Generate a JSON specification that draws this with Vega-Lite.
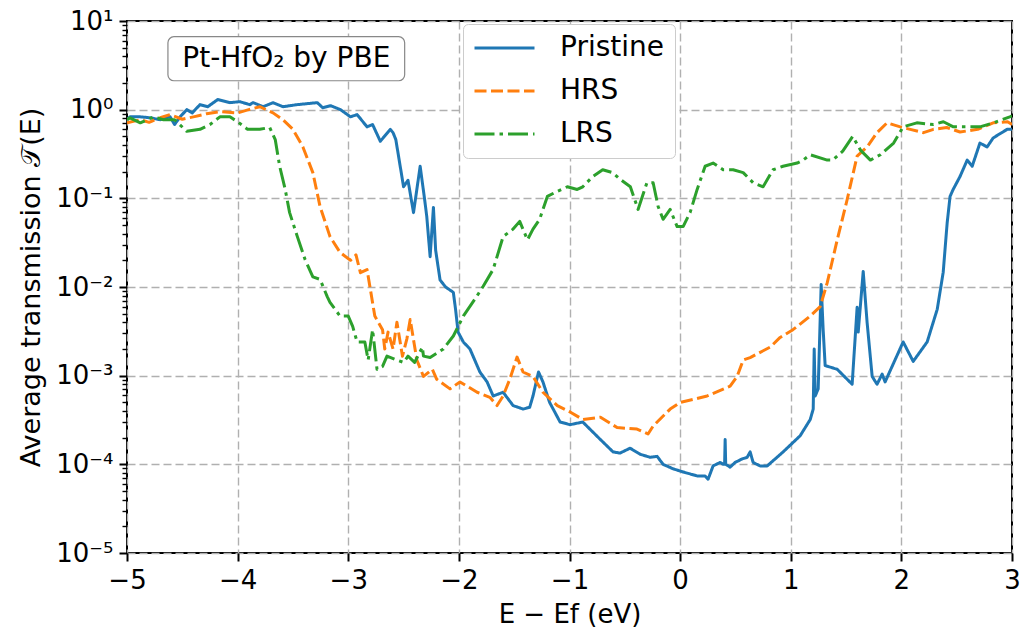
{
"$schema":"https://vega.github.io/schema/vega-lite/v6.json",
"autosize":{"type":"none"},
"padding":{"left":127,"top":21,"right":15,"bottom":77},
"width":885,"height":532,
"background":"white",
"config":{"font":"DejaVu Sans","view":{"stroke":"black","strokeWidth":2},
"axis":{"labelFont":"DejaVu Sans","titleFont":"DejaVu Sans","labelFontSize":26,"titleFontSize":26,"titleFontWeight":"normal","labelColor":"black","titleColor":"black","tickColor":"black","domain":false,"gridColor":"#b0b0b0","gridDash":[8,4],"gridWidth":1.4}},
"datasets":{
"main":[
{"E":-5.0,"T":0.77,"s":"Pristine"},{"E":-4.973,"T":0.83,"s":"Pristine"},{"E":-4.88,"T":0.83,"s":"Pristine"},{"E":-4.79,"T":0.81,"s":"Pristine"},{"E":-4.7,"T":0.77,"s":"Pristine"},{"E":-4.61,"T":0.83,"s":"Pristine"},{"E":-4.57,"T":0.68,"s":"Pristine"},{"E":-4.52,"T":0.83,"s":"Pristine"},{"E":-4.46,"T":1.0,"s":"Pristine"},{"E":-4.41,"T":0.92,"s":"Pristine"},{"E":-4.34,"T":1.14,"s":"Pristine"},{"E":-4.27,"T":1.08,"s":"Pristine"},{"E":-4.18,"T":1.3,"s":"Pristine"},{"E":-4.07,"T":1.2,"s":"Pristine"},{"E":-3.98,"T":1.23,"s":"Pristine"},{"E":-3.89,"T":1.14,"s":"Pristine"},{"E":-3.86,"T":1.2,"s":"Pristine"},{"E":-3.77,"T":1.08,"s":"Pristine"},{"E":-3.68,"T":1.2,"s":"Pristine"},{"E":-3.59,"T":1.08,"s":"Pristine"},{"E":-3.46,"T":1.14,"s":"Pristine"},{"E":-3.28,"T":1.2,"s":"Pristine"},{"E":-3.23,"T":1.05,"s":"Pristine"},{"E":-3.16,"T":1.11,"s":"Pristine"},{"E":-3.07,"T":1.0,"s":"Pristine"},{"E":-2.98,"T":0.83,"s":"Pristine"},{"E":-2.92,"T":0.88,"s":"Pristine"},{"E":-2.83,"T":0.64,"s":"Pristine"},{"E":-2.78,"T":0.68,"s":"Pristine"},{"E":-2.71,"T":0.44,"s":"Pristine"},{"E":-2.62,"T":0.6,"s":"Pristine"},{"E":-2.595,"T":0.55,"s":"Pristine"},{"E":-2.57,"T":0.46,"s":"Pristine"},{"E":-2.5,"T":0.135,"s":"Pristine"},{"E":-2.46,"T":0.16,"s":"Pristine"},{"E":-2.41,"T":0.069,"s":"Pristine"},{"E":-2.38,"T":0.126,"s":"Pristine"},{"E":-2.35,"T":0.23,"s":"Pristine"},{"E":-2.31,"T":0.098,"s":"Pristine"},{"E":-2.29,"T":0.062,"s":"Pristine"},{"E":-2.26,"T":0.022,"s":"Pristine"},{"E":-2.23,"T":0.079,"s":"Pristine"},{"E":-2.21,"T":0.026,"s":"Pristine"},{"E":-2.17,"T":0.012,"s":"Pristine"},{"E":-2.12,"T":0.01,"s":"Pristine"},{"E":-2.05,"T":0.0087,"s":"Pristine"},{"E":-2.03,"T":0.0056,"s":"Pristine"},{"E":-2.007,"T":0.0031,"s":"Pristine"},{"E":-1.96,"T":0.0024,"s":"Pristine"},{"E":-1.9,"T":0.002,"s":"Pristine"},{"E":-1.81,"T":0.0011,"s":"Pristine"},{"E":-1.745,"T":0.00085,"s":"Pristine"},{"E":-1.69,"T":0.00059,"s":"Pristine"},{"E":-1.6,"T":0.00065,"s":"Pristine"},{"E":-1.51,"T":0.00046,"s":"Pristine"},{"E":-1.42,"T":0.00042,"s":"Pristine"},{"E":-1.36,"T":0.00044,"s":"Pristine"},{"E":-1.33,"T":0.00059,"s":"Pristine"},{"E":-1.28,"T":0.0011,"s":"Pristine"},{"E":-1.24,"T":0.00085,"s":"Pristine"},{"E":-1.18,"T":0.0005,"s":"Pristine"},{"E":-1.085,"T":0.0003,"s":"Pristine"},{"E":-0.995,"T":0.00028,"s":"Pristine"},{"E":-0.88,"T":0.0003,"s":"Pristine"},{"E":-0.72,"T":0.00019,"s":"Pristine"},{"E":-0.606,"T":0.000138,"s":"Pristine"},{"E":-0.543,"T":0.000134,"s":"Pristine"},{"E":-0.452,"T":0.000152,"s":"Pristine"},{"E":-0.362,"T":0.00013,"s":"Pristine"},{"E":-0.271,"T":0.00012,"s":"Pristine"},{"E":-0.208,"T":0.000123,"s":"Pristine"},{"E":-0.154,"T":0.0001,"s":"Pristine"},{"E":-0.063,"T":0.000089,"s":"Pristine"},{"E":0.027,"T":0.000082,"s":"Pristine"},{"E":0.154,"T":0.000074,"s":"Pristine"},{"E":0.226,"T":0.000074,"s":"Pristine"},{"E":0.253,"T":0.000068,"s":"Pristine"},{"E":0.298,"T":0.000096,"s":"Pristine"},{"E":0.362,"T":0.000105,"s":"Pristine"},{"E":0.389,"T":0.0001,"s":"Pristine"},{"E":0.402,"T":0.0001,"s":"Pristine"},{"E":0.407,"T":0.00019,"s":"Pristine"},{"E":0.412,"T":0.0001,"s":"Pristine"},{"E":0.452,"T":0.000093,"s":"Pristine"},{"E":0.497,"T":0.000105,"s":"Pristine"},{"E":0.56,"T":0.000115,"s":"Pristine"},{"E":0.606,"T":0.00012,"s":"Pristine"},{"E":0.633,"T":0.000138,"s":"Pristine"},{"E":0.66,"T":0.000105,"s":"Pristine"},{"E":0.723,"T":0.000096,"s":"Pristine"},{"E":0.787,"T":0.000096,"s":"Pristine"},{"E":0.931,"T":0.000138,"s":"Pristine"},{"E":1.085,"T":0.00021,"s":"Pristine"},{"E":1.176,"T":0.00032,"s":"Pristine"},{"E":1.203,"T":0.00042,"s":"Pristine"},{"E":1.212,"T":0.002,"s":"Pristine"},{"E":1.221,"T":0.00059,"s":"Pristine"},{"E":1.248,"T":0.00071,"s":"Pristine"},{"E":1.275,"T":0.0107,"s":"Pristine"},{"E":1.293,"T":0.0033,"s":"Pristine"},{"E":1.311,"T":0.0013,"s":"Pristine"},{"E":1.42,"T":0.00118,"s":"Pristine"},{"E":1.555,"T":0.0008,"s":"Pristine"},{"E":1.6,"T":0.0059,"s":"Pristine"},{"E":1.61,"T":0.0031,"s":"Pristine"},{"E":1.655,"T":0.015,"s":"Pristine"},{"E":1.69,"T":0.004,"s":"Pristine"},{"E":1.736,"T":0.00098,"s":"Pristine"},{"E":1.78,"T":0.0008,"s":"Pristine"},{"E":1.826,"T":0.00104,"s":"Pristine"},{"E":1.853,"T":0.00085,"s":"Pristine"},{"E":2.016,"T":0.0024,"s":"Pristine"},{"E":2.107,"T":0.00145,"s":"Pristine"},{"E":2.233,"T":0.0024,"s":"Pristine"},{"E":2.324,"T":0.0056,"s":"Pristine"},{"E":2.378,"T":0.0146,"s":"Pristine"},{"E":2.414,"T":0.053,"s":"Pristine"},{"E":2.44,"T":0.105,"s":"Pristine"},{"E":2.468,"T":0.126,"s":"Pristine"},{"E":2.53,"T":0.176,"s":"Pristine"},{"E":2.595,"T":0.27,"s":"Pristine"},{"E":2.64,"T":0.23,"s":"Pristine"},{"E":2.71,"T":0.42,"s":"Pristine"},{"E":2.775,"T":0.38,"s":"Pristine"},{"E":2.83,"T":0.48,"s":"Pristine"},{"E":2.956,"T":0.6,"s":"Pristine"},{"E":3.0,"T":0.6,"s":"Pristine"},
{"E":-5.0,"T":0.71,"s":"HRS"},{"E":-4.88,"T":0.77,"s":"HRS"},{"E":-4.8,"T":0.72,"s":"HRS"},{"E":-4.7,"T":0.81,"s":"HRS"},{"E":-4.61,"T":0.88,"s":"HRS"},{"E":-4.5,"T":0.78,"s":"HRS"},{"E":-4.4,"T":0.83,"s":"HRS"},{"E":-4.28,"T":0.9,"s":"HRS"},{"E":-4.16,"T":0.95,"s":"HRS"},{"E":-4.0,"T":0.92,"s":"HRS"},{"E":-3.9,"T":1.0,"s":"HRS"},{"E":-3.8,"T":1.08,"s":"HRS"},{"E":-3.68,"T":0.92,"s":"HRS"},{"E":-3.59,"T":0.77,"s":"HRS"},{"E":-3.5,"T":0.6,"s":"HRS"},{"E":-3.41,"T":0.38,"s":"HRS"},{"E":-3.32,"T":0.195,"s":"HRS"},{"E":-3.255,"T":0.081,"s":"HRS"},{"E":-3.165,"T":0.037,"s":"HRS"},{"E":-3.074,"T":0.0245,"s":"HRS"},{"E":-2.98,"T":0.02,"s":"HRS"},{"E":-2.93,"T":0.023,"s":"HRS"},{"E":-2.89,"T":0.0145,"s":"HRS"},{"E":-2.83,"T":0.0157,"s":"HRS"},{"E":-2.8,"T":0.0094,"s":"HRS"},{"E":-2.76,"T":0.0047,"s":"HRS"},{"E":-2.69,"T":0.0033,"s":"HRS"},{"E":-2.67,"T":0.002,"s":"HRS"},{"E":-2.64,"T":0.0031,"s":"HRS"},{"E":-2.595,"T":0.002,"s":"HRS"},{"E":-2.56,"T":0.004,"s":"HRS"},{"E":-2.51,"T":0.00166,"s":"HRS"},{"E":-2.47,"T":0.0026,"s":"HRS"},{"E":-2.44,"T":0.0043,"s":"HRS"},{"E":-2.38,"T":0.0015,"s":"HRS"},{"E":-2.32,"T":0.00098,"s":"HRS"},{"E":-2.24,"T":0.00118,"s":"HRS"},{"E":-2.2,"T":0.00091,"s":"HRS"},{"E":-2.08,"T":0.00071,"s":"HRS"},{"E":-1.99,"T":0.00085,"s":"HRS"},{"E":-1.835,"T":0.00065,"s":"HRS"},{"E":-1.72,"T":0.00057,"s":"HRS"},{"E":-1.655,"T":0.00046,"s":"HRS"},{"E":-1.6,"T":0.00059,"s":"HRS"},{"E":-1.54,"T":0.00091,"s":"HRS"},{"E":-1.474,"T":0.00162,"s":"HRS"},{"E":-1.42,"T":0.0011,"s":"HRS"},{"E":-1.33,"T":0.00098,"s":"HRS"},{"E":-1.24,"T":0.00065,"s":"HRS"},{"E":-1.11,"T":0.00046,"s":"HRS"},{"E":-0.995,"T":0.00039,"s":"HRS"},{"E":-0.88,"T":0.00032,"s":"HRS"},{"E":-0.72,"T":0.00034,"s":"HRS"},{"E":-0.57,"T":0.00026,"s":"HRS"},{"E":-0.39,"T":0.00025,"s":"HRS"},{"E":-0.29,"T":0.00022,"s":"HRS"},{"E":-0.244,"T":0.00027,"s":"HRS"},{"E":-0.09,"T":0.00042,"s":"HRS"},{"E":0.0,"T":0.0005,"s":"HRS"},{"E":0.118,"T":0.00054,"s":"HRS"},{"E":0.244,"T":0.00059,"s":"HRS"},{"E":0.452,"T":0.00076,"s":"HRS"},{"E":0.515,"T":0.00098,"s":"HRS"},{"E":0.57,"T":0.0015,"s":"HRS"},{"E":0.633,"T":0.0016,"s":"HRS"},{"E":0.814,"T":0.0021,"s":"HRS"},{"E":0.904,"T":0.0027,"s":"HRS"},{"E":1.02,"T":0.0033,"s":"HRS"},{"E":1.176,"T":0.0047,"s":"HRS"},{"E":1.266,"T":0.006,"s":"HRS"},{"E":1.33,"T":0.0112,"s":"HRS"},{"E":1.42,"T":0.034,"s":"HRS"},{"E":1.51,"T":0.097,"s":"HRS"},{"E":1.6,"T":0.3,"s":"HRS"},{"E":1.69,"T":0.38,"s":"HRS"},{"E":1.78,"T":0.55,"s":"HRS"},{"E":1.87,"T":0.71,"s":"HRS"},{"E":1.99,"T":0.64,"s":"HRS"},{"E":2.08,"T":0.6,"s":"HRS"},{"E":2.2,"T":0.55,"s":"HRS"},{"E":2.29,"T":0.6,"s":"HRS"},{"E":2.41,"T":0.63,"s":"HRS"},{"E":2.53,"T":0.56,"s":"HRS"},{"E":2.69,"T":0.6,"s":"HRS"},{"E":2.83,"T":0.71,"s":"HRS"},{"E":2.96,"T":0.73,"s":"HRS"},{"E":3.0,"T":0.68,"s":"HRS"},
{"E":-5.0,"T":0.77,"s":"LRS"},{"E":-4.973,"T":0.81,"s":"LRS"},{"E":-4.88,"T":0.71,"s":"LRS"},{"E":-4.76,"T":0.83,"s":"LRS"},{"E":-4.67,"T":0.77,"s":"LRS"},{"E":-4.57,"T":0.77,"s":"LRS"},{"E":-4.46,"T":0.57,"s":"LRS"},{"E":-4.34,"T":0.6,"s":"LRS"},{"E":-4.25,"T":0.68,"s":"LRS"},{"E":-4.16,"T":0.83,"s":"LRS"},{"E":-4.07,"T":0.83,"s":"LRS"},{"E":-4.0,"T":0.73,"s":"LRS"},{"E":-3.91,"T":0.6,"s":"LRS"},{"E":-3.8,"T":0.6,"s":"LRS"},{"E":-3.71,"T":0.63,"s":"LRS"},{"E":-3.66,"T":0.46,"s":"LRS"},{"E":-3.62,"T":0.23,"s":"LRS"},{"E":-3.57,"T":0.126,"s":"LRS"},{"E":-3.53,"T":0.069,"s":"LRS"},{"E":-3.46,"T":0.037,"s":"LRS"},{"E":-3.39,"T":0.0204,"s":"LRS"},{"E":-3.32,"T":0.013,"s":"LRS"},{"E":-3.255,"T":0.0122,"s":"LRS"},{"E":-3.19,"T":0.0078,"s":"LRS"},{"E":-3.165,"T":0.0067,"s":"LRS"},{"E":-3.074,"T":0.0047,"s":"LRS"},{"E":-3.0,"T":0.0047,"s":"LRS"},{"E":-2.96,"T":0.0036,"s":"LRS"},{"E":-2.92,"T":0.0024,"s":"LRS"},{"E":-2.85,"T":0.0024,"s":"LRS"},{"E":-2.82,"T":0.0015,"s":"LRS"},{"E":-2.78,"T":0.0033,"s":"LRS"},{"E":-2.74,"T":0.00118,"s":"LRS"},{"E":-2.69,"T":0.00127,"s":"LRS"},{"E":-2.65,"T":0.00166,"s":"LRS"},{"E":-2.56,"T":0.0015,"s":"LRS"},{"E":-2.5,"T":0.00141,"s":"LRS"},{"E":-2.46,"T":0.00166,"s":"LRS"},{"E":-2.4,"T":0.00141,"s":"LRS"},{"E":-2.33,"T":0.0021,"s":"LRS"},{"E":-2.32,"T":0.00166,"s":"LRS"},{"E":-2.26,"T":0.0016,"s":"LRS"},{"E":-2.14,"T":0.002,"s":"LRS"},{"E":-2.05,"T":0.0028,"s":"LRS"},{"E":-1.96,"T":0.0047,"s":"LRS"},{"E":-1.84,"T":0.0078,"s":"LRS"},{"E":-1.78,"T":0.0102,"s":"LRS"},{"E":-1.69,"T":0.0158,"s":"LRS"},{"E":-1.6,"T":0.037,"s":"LRS"},{"E":-1.51,"T":0.045,"s":"LRS"},{"E":-1.45,"T":0.055,"s":"LRS"},{"E":-1.38,"T":0.034,"s":"LRS"},{"E":-1.33,"T":0.045,"s":"LRS"},{"E":-1.27,"T":0.058,"s":"LRS"},{"E":-1.2,"T":0.105,"s":"LRS"},{"E":-1.11,"T":0.12,"s":"LRS"},{"E":-1.02,"T":0.135,"s":"LRS"},{"E":-0.93,"T":0.126,"s":"LRS"},{"E":-0.88,"T":0.135,"s":"LRS"},{"E":-0.79,"T":0.176,"s":"LRS"},{"E":-0.7,"T":0.21,"s":"LRS"},{"E":-0.61,"T":0.195,"s":"LRS"},{"E":-0.54,"T":0.163,"s":"LRS"},{"E":-0.45,"T":0.135,"s":"LRS"},{"E":-0.38,"T":0.075,"s":"LRS"},{"E":-0.3,"T":0.15,"s":"LRS"},{"E":-0.244,"T":0.15,"s":"LRS"},{"E":-0.199,"T":0.081,"s":"LRS"},{"E":-0.154,"T":0.058,"s":"LRS"},{"E":-0.09,"T":0.075,"s":"LRS"},{"E":-0.027,"T":0.048,"s":"LRS"},{"E":0.027,"T":0.048,"s":"LRS"},{"E":0.09,"T":0.069,"s":"LRS"},{"E":0.154,"T":0.126,"s":"LRS"},{"E":0.226,"T":0.23,"s":"LRS"},{"E":0.298,"T":0.25,"s":"LRS"},{"E":0.389,"T":0.21,"s":"LRS"},{"E":0.479,"T":0.21,"s":"LRS"},{"E":0.57,"T":0.195,"s":"LRS"},{"E":0.66,"T":0.15,"s":"LRS"},{"E":0.75,"T":0.135,"s":"LRS"},{"E":0.84,"T":0.21,"s":"LRS"},{"E":0.93,"T":0.23,"s":"LRS"},{"E":1.058,"T":0.25,"s":"LRS"},{"E":1.112,"T":0.27,"s":"LRS"},{"E":1.176,"T":0.31,"s":"LRS"},{"E":1.33,"T":0.27,"s":"LRS"},{"E":1.38,"T":0.27,"s":"LRS"},{"E":1.47,"T":0.34,"s":"LRS"},{"E":1.56,"T":0.5,"s":"LRS"},{"E":1.63,"T":0.35,"s":"LRS"},{"E":1.72,"T":0.27,"s":"LRS"},{"E":1.81,"T":0.31,"s":"LRS"},{"E":1.93,"T":0.42,"s":"LRS"},{"E":2.016,"T":0.64,"s":"LRS"},{"E":2.14,"T":0.71,"s":"LRS"},{"E":2.29,"T":0.68,"s":"LRS"},{"E":2.38,"T":0.73,"s":"LRS"},{"E":2.47,"T":0.64,"s":"LRS"},{"E":2.6,"T":0.64,"s":"LRS"},{"E":2.71,"T":0.64,"s":"LRS"},{"E":2.83,"T":0.71,"s":"LRS"},{"E":2.98,"T":0.83,"s":"LRS"},{"E":3.0,"T":0.85,"s":"LRS"}
],
"note":[{"E":-4.63,"E2":-2.49,"T":2.12,"T2":6.65,"mid":3.76,"cx":-3.56,"label":"Pt-HfO₂ by PBE"}]
},
"layer":[
{"data":{"name":"main"},
"mark":{"type":"line","strokeWidth":3,"strokeCap":"butt","strokeJoin":"round","clip":true},
"encoding":{
"x":{"field":"E","type":"quantitative","title":"E − Ef (eV)","scale":{"domain":[-5,3],"nice":false,"zero":false},
"axis":{"values":[-5,-4,-3,-2,-1,0,1,2,3],"format":"d","grid":true,"tickSize":8,"tickWidth":2,"labelPadding":6,"labelFlush":false,"titlePadding":8}},
"y":{"field":"T","type":"quantitative","title":"Average transmission 𝒯(E)","scale":{"type":"log","domain":[0.00001,10],"nice":false},
"axis":{"values":[0.00001,0.00002,0.00003,0.00004,0.00005,0.00006,0.00007,0.00008,0.00009,0.0001,0.0002,0.0003,0.0004,0.0005,0.0006,0.0007,0.0008,0.0009,0.001,0.002,0.003,0.004,0.005,0.006,0.007,0.008,0.009,0.01,0.02,0.03,0.04,0.05,0.06,0.07,0.08,0.09,0.1,0.2,0.3,0.4,0.5,0.6,0.7,0.8,0.9,1,2,3,4,5,6,7,8,9,10],
"labelExpr":"abs(log(datum.value)/LN10 - round(log(datum.value)/LN10)) > 0.01 ? '' : '10' + replace(replace(replace(replace(replace(replace(replace(''+round(log(datum.value)/LN10),'-','⁻'),'0','⁰'),'1','¹'),'2','²'),'3','³'),'4','⁴'),'5','⁵')",
"grid":true,
"gridOpacity":{"condition":{"test":"abs(log(datum.value)/LN10 - round(log(datum.value)/LN10)) < 0.01","value":1},"value":0},
"tickSize":{"condition":{"test":"abs(log(datum.value)/LN10 - round(log(datum.value)/LN10)) < 0.01","value":8},"value":5},
"tickWidth":{"condition":{"test":"abs(log(datum.value)/LN10 - round(log(datum.value)/LN10)) < 0.01","value":2},"value":1.4},
"labelPadding":6,"labelOverlap":false,"titlePadding":10,"titleFontSize":27}},
"color":{"field":"s","type":"nominal","sort":["Pristine","HRS","LRS"],"scale":{"domain":["Pristine","HRS","LRS"],"range":["#1f77b4","#ff7f0e","#2ca02c"]},
"legend":{"title":null,"orient":"none","legendX":336,"legendY":3,"symbolType":"stroke","symbolSize":3600,"symbolStrokeWidth":3,"labelFontSize":28,"labelFont":"DejaVu Sans","labelColor":"black","labelOffset":24,"padding":10,"rowPadding":15,"clipHeight":28,"fillColor":"white","strokeColor":"#cccccc","cornerRadius":5}},
"strokeDash":{"field":"s","type":"nominal","sort":["Pristine","HRS","LRS"],"scale":{"domain":["Pristine","HRS","LRS"],"range":[[1,0],[12,4.5],[20,5,3.5,5]]},"legend":null}
}},
{"data":{"name":"note"},
"mark":{"type":"rect","fill":"white","stroke":"#888888","strokeWidth":1.2,"cornerRadius":6},
"encoding":{"x":{"field":"E","type":"quantitative"},"x2":{"field":"E2"},"y":{"field":"T","type":"quantitative"},"y2":{"field":"T2"}}},
{"data":{"name":"note"},
"mark":{"type":"text","fontSize":28,"font":"DejaVu Sans","color":"black","align":"center","baseline":"middle"},
"encoding":{"x":{"field":"cx","type":"quantitative"},"y":{"field":"mid","type":"quantitative"},"text":{"field":"label"}}}
]
}
